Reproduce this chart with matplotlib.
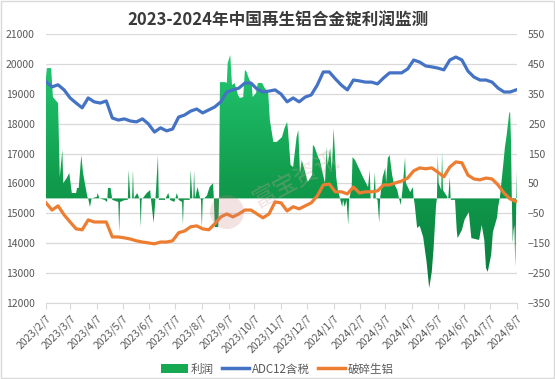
import numpy as np
import pandas as pd
import matplotlib
matplotlib.use("Agg")
import matplotlib.pyplot as plt
import matplotlib.dates as mdates
from matplotlib.colors import LinearSegmentedColormap
from matplotlib.lines import Line2D
from matplotlib.patches import Patch, Rectangle, Ellipse

plt.rcParams["font.family"] = ["Noto Sans CJK SC", "DejaVu Sans"]

BLUE, ORANGE, GREY, GRID = "#4472C4", "#ED7D31", "#595959", "#d9d9d9"

# weekly readings of the two price lines (yuan/t, left axis)
line_dates = pd.date_range("2023-02-07", "2024-08-06", freq="7D")
adc12 = [19400, 19230, 19300, 19130, 18860, 18690, 18530, 18860, 18730, 18690,
         18760, 18190, 18120, 18160, 18090, 18060, 18160, 17990, 17720, 17860,
         17760, 17820, 18220, 18290, 18420, 18490, 18360, 18460, 18560, 18730,
         19060, 19130, 19190, 19360, 19360, 19160, 19060, 19090, 19130, 18990,
         18730, 18860, 18730, 18890, 18960, 19290, 19730, 19730, 19500, 19290,
         19130, 19460, 19430, 19390, 19390, 19330, 19530, 19700, 19700, 19700,
         19830, 20130, 20060, 19930, 19900, 19860, 19800, 20130, 20230, 20130,
         19760, 19560, 19460, 19460, 19390, 19190, 19060, 19060, 19130]
scrap = [15350, 15110, 15250, 14950, 14710, 14480, 14450, 14780, 14710, 14710,
         14710, 14210, 14210, 14180, 14140, 14080, 14040, 14010, 13980, 14040,
         14040, 14080, 14350, 14410, 14550, 14580, 14480, 14450, 14650, 14880,
         14980, 14880, 14980, 15110, 15110, 14980, 14850, 14980, 15380, 15350,
         15080, 15220, 15150, 15250, 15350, 15580, 15950, 15980, 15720, 15720,
         15650, 15880, 15680, 15720, 15720, 15750, 15950, 15950, 16020, 16080,
         16180, 16420, 16520, 16490, 16520, 16380, 16220, 16550, 16720, 16690,
         16280, 16150, 16120, 16180, 16150, 15950, 15680, 15480, 15400]

# profit (yuan/t, right axis), breakpoints of the area
profit_dates = [
    "2023-02-07", "2023-02-08", "2023-02-13", "2023-02-15", "2023-02-20", "2023-02-21", "2023-02-23", "2023-02-26", "2023-02-27",
    "2023-03-03", "2023-03-06", "2023-03-09", "2023-03-14", "2023-03-15", "2023-03-17", "2023-03-20", "2023-03-22", "2023-03-27", "2023-03-28", "2023-03-30",
    "2023-04-01", "2023-04-07", "2023-04-08", "2023-04-10", "2023-04-16", "2023-04-19", "2023-04-20", "2023-04-23", "2023-04-25",
    "2023-05-02", "2023-05-03", "2023-05-04", "2023-05-10", "2023-05-13", "2023-05-14", "2023-05-16", "2023-05-18", "2023-05-19", "2023-05-20", "2023-05-24", "2023-05-27", "2023-05-28", "2023-05-29",
    "2023-06-04", "2023-06-08", "2023-06-09", "2023-06-12", "2023-06-14", "2023-06-15", "2023-06-17", "2023-06-18", "2023-06-25", "2023-06-29",
    "2023-07-01", "2023-07-06", "2023-07-09", "2023-07-11", "2023-07-15", "2023-07-16", "2023-07-17", "2023-07-24", "2023-07-25", "2023-07-27", "2023-07-28", "2023-07-29", "2023-07-30",
    "2023-08-02", "2023-08-05", "2023-08-06", "2023-08-07", "2023-08-08", "2023-08-13", "2023-08-16", "2023-08-20", "2023-08-21", "2023-08-22", "2023-08-26", "2023-08-27", "2023-08-28",
    "2023-09-03", "2023-09-05", "2023-09-06", "2023-09-09", "2023-09-11", "2023-09-14", "2023-09-18", "2023-09-20", "2023-09-24", "2023-09-26", "2023-09-28", "2023-09-30",
    "2023-10-04", "2023-10-05", "2023-10-09", "2023-10-11", "2023-10-16", "2023-10-19", "2023-10-23", "2023-10-25", "2023-10-29",
    "2023-11-02", "2023-11-08", "2023-11-11", "2023-11-14", "2023-11-15", "2023-11-18", "2023-11-21", "2023-11-25", "2023-11-27", "2023-11-29",
    "2023-12-01", "2023-12-05", "2023-12-08", "2023-12-13", "2023-12-14", "2023-12-16", "2023-12-20", "2023-12-22", "2023-12-28", "2023-12-30", "2023-12-31",
    "2024-01-03", "2024-01-05", "2024-01-07", "2024-01-10", "2024-01-12", "2024-01-14", "2024-01-17", "2024-01-18", "2024-01-20", "2024-01-22", "2024-01-24", "2024-01-25", "2024-01-28", "2024-01-29",
    "2024-02-01", "2024-02-10", "2024-02-16", "2024-02-18", "2024-02-19", "2024-02-22", "2024-02-24", "2024-02-25", "2024-02-27", "2024-02-29",
    "2024-03-01", "2024-03-04", "2024-03-07", "2024-03-08", "2024-03-10", "2024-03-12", "2024-03-15", "2024-03-17", "2024-03-21", "2024-03-23", "2024-03-25", "2024-03-27", "2024-03-30", "2024-03-31",
    "2024-04-05", "2024-04-08", "2024-04-09", "2024-04-10", "2024-04-13", "2024-04-16", "2024-04-20", "2024-04-24", "2024-04-27", "2024-04-30",
    "2024-05-02", "2024-05-05", "2024-05-06", "2024-05-07", "2024-05-08", "2024-05-11", "2024-05-12", "2024-05-13", "2024-05-18", "2024-05-19", "2024-05-21", "2024-05-22", "2024-05-27", "2024-05-29", "2024-05-30",
    "2024-06-04", "2024-06-07", "2024-06-12", "2024-06-15", "2024-06-24", "2024-06-27", "2024-06-30",
    "2024-07-02", "2024-07-04", "2024-07-08", "2024-07-10", "2024-07-15", "2024-07-16", "2024-07-18", "2024-07-22", "2024-07-24", "2024-07-26", "2024-07-29", "2024-07-30", "2024-07-31",
    "2024-08-01", "2024-08-02", "2024-08-03", "2024-08-04", "2024-08-05", "2024-08-06", "2024-08-07",
]
profit = [
    406, 436, 436, 339, 322, 319, 72, 162, 51,
    68, 85, 18, 18, 35, 35, 145, 85, 5, 0, -29,
    0, 5, 18, 0, -5, -12, 35, 35, -5,
    -12, -113, -12, -5, -5, 95, 0, 0, 95, 0, 18, -5, -96, -5,
    18, 28, -5, -82, -5, 38, 145, -5, -5, 18,
    -5, -12, 18, -5, -12, -89, -5, -5, 95, 0, 0, 95, 0,
    38, 0, -5, -99, -5, 10, 38, 51, -5, -96, -96, -5, 389,
    389, 386, 453, 480, 379, 386, 346, 336, 339, 430, 423, 406,
    379, 339, 353, 386, 386, 369, 356, 262, 189,
    189, 205, 235, 256, 229, 112, 105, 205, 229, 85,
    128, 88, 55, 78, 179, 172, 138, 128, 51, 172, 112,
    169, 95, 235, 72, 28, 5, -29, -5, -29, -5, -89, -5, 38, 138,
    128, 72, 38, 95, 0, 0, 88, 0, -5, -82,
    0, 72, 102, 51, 135, 145, 78, 51, 28, 0, -22, 28, 138, 51,
    21, 38, 0, -15, -99, -92, -129, -213, -300, -246,
    -173, -22, 0, 145, 51, 28, 155, 28, 5, -5, 72, -5, -5, -106, -133,
    -106, -72, -46, -133, -139, -89, -139,
    -233, -246, -189, -113, -62, -29, 0, 112, 172, 212, 286, 289, 195,
    -5, -149, -106, -89, -230, -39, 95,
]

tick_labels = ["2023/2/7", "2023/3/7", "2023/4/7", "2023/5/7", "2023/6/7", "2023/7/7",
               "2023/8/7", "2023/9/7", "2023/10/7", "2023/11/7", "2023/12/7", "2024/1/7",
               "2024/2/7", "2024/3/7", "2024/4/7", "2024/5/7", "2024/6/7", "2024/7/7",
               "2024/8/7"]
tick_pos = pd.to_datetime(tick_labels, format="%Y/%m/%d")
pdates = pd.to_datetime(profit_dates)

fig = plt.figure(figsize=(5.55, 3.79), dpi=100)
ax = fig.add_axes([46 / 555, 1 - 303 / 379, 471 / 555, 269 / 379])
ax2 = ax.twinx()
ax.set_zorder(2)
ax2.set_zorder(1)
ax.patch.set_visible(False)

# profit area with vertical gradient (right axis)
green = LinearSegmentedColormap.from_list("g", ["#08763a", "#12a04f", "#27d07a"])
fill = ax2.fill_between(pdates, profit, 0, facecolor="none", edgecolor="none")
grad = np.linspace(1, 0, 256).reshape(-1, 1)
im = ax2.imshow(grad, extent=[mdates.date2num(pdates[0]), mdates.date2num(pdates[-1]), -350, 550],
                aspect="auto", cmap=green, origin="upper", zorder=2)
im.set_clip_path(fill.get_paths()[0], transform=ax2.transData)

ax.plot(line_dates, adc12, color=BLUE, lw=2.3, solid_joinstyle="round")
ax.plot(line_dates, scrap, color=ORANGE, lw=2.3, solid_joinstyle="round")

ax.set_xlim(tick_pos[0], tick_pos[-1])
ax.set_ylim(12000, 21000)
ax.set_yticks(range(12000, 21001, 1000))
ax2.set_ylim(-350, 550)
ax2.set_yticks(range(-350, 551, 100))
ax2.yaxis.grid(True, color=GRID, lw=0.9)
ax2.set_axisbelow(True)

for a in (ax, ax2):
    for s in a.spines.values():
        s.set_visible(False)
ax.spines["bottom"].set_visible(True)
ax.spines["bottom"].set_color(GRID)
ax.tick_params(axis="y", length=0, pad=8, labelsize=7.5, labelcolor=GREY)
ax2.tick_params(axis="y", length=0, pad=8, labelsize=7.5, labelcolor=GREY)
ax.set_xticks(tick_pos)
ax.set_xticklabels(tick_labels, rotation=45, ha="right", va="top", rotation_mode="anchor",
                   fontsize=7.5, color=GREY)
ax.tick_params(axis="x", length=4, color=GRID, pad=3)

fig.text(0.5, 1 - 21 / 379, "2023-2024年中国再生铝合金锭利润监测", ha="center", va="center",
         fontsize=12, fontweight="bold", color="#3a3a3a")

# faint watermark
fig.add_artist(Ellipse((227 / 555, 1 - 212 / 379), 34 / 555, 34 / 379, transform=fig.transFigure,
                       facecolor="#c97b7b", edgecolor="none", alpha=0.22, zorder=10))
fig.text(296 / 555, 1 - 180 / 379, "富宝资讯", rotation=28, ha="center", va="center",
         fontsize=17, color="#d8a0a0", alpha=0.3, zorder=10)

handles = [Patch(facecolor="#17a852", edgecolor="none"),
           Line2D([], [], color=BLUE, lw=2.5),
           Line2D([], [], color=ORANGE, lw=2.5)]
fig.legend(handles, ["利润", "ADC12含税", "破碎生铝"], loc="center", bbox_to_anchor=(0.5, 1 - 369 / 379),
           ncol=3, frameon=False, fontsize=8.3, handlelength=2.3, handletextpad=0.3,
           columnspacing=0.7, labelcolor=GREY)

fig.add_artist(Rectangle((0.001, 0.002), 0.997, 0.996, transform=fig.transFigure, fill=False,
                         edgecolor=GRID, lw=1))

fig.savefig("out.png", dpi=100)
